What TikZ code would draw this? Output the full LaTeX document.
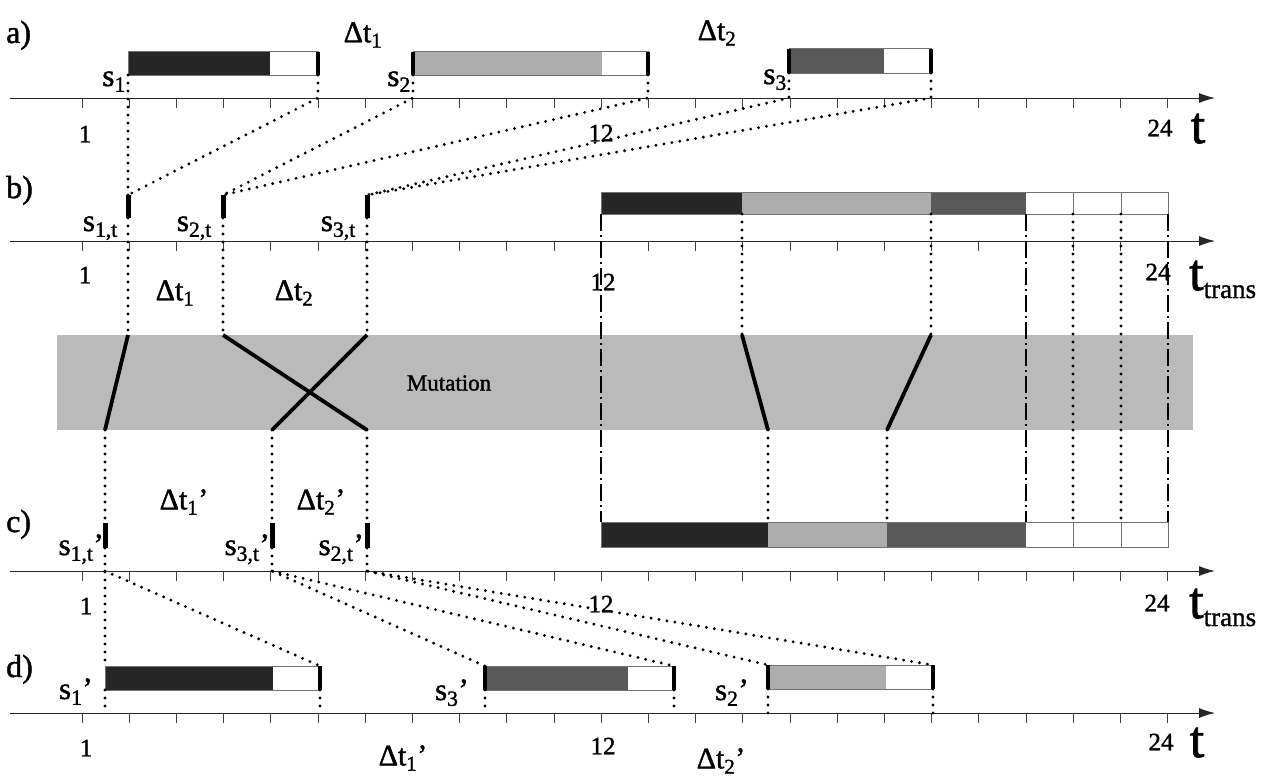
\documentclass[tikz,border=0pt]{standalone}
\usepackage{fontspec}
\setmainfont{Liberation Serif}[FakeBold=1.4]
\usetikzlibrary{arrows.meta,calc}

\colorlet{jobA}{black!85}
\colorlet{jobB}{black!32}
\colorlet{jobC}{black!65}
\colorlet{band}{black!27}

\begin{document}
\begin{tikzpicture}[x=1pt,y=-1pt,
    >={Latex[length=16pt,width=10pt]},
    axisline/.style={draw=black!85,line width=1pt,->},
    tickmark/.style={draw=black!75,line width=0.8pt},
    dots/.style={line width=3.2pt,line cap=round,dash pattern=on 0pt off 8pt},
    dashdots/.style={line width=2.6pt,dash pattern=on 17pt off 4pt on 2pt off 4pt},
    jobbox/.style={draw=black!55,line width=1pt},
    jobend/.style={line width=3.8pt},
    marker/.style={line width=5pt},
    swapline/.style={line width=3.8pt},
    panel/.style={font=\fontsize{32}{34}\selectfont,inner sep=0pt},
    slabel/.style={font=\fontsize{31}{33}\selectfont,inner sep=0pt},
    dlabel/.style={font=\fontsize{30}{32}\selectfont,inner sep=0pt},
    num/.style={font=\fontsize{25}{27}\selectfont,inner sep=0pt},
    tlabel/.style={font=\fontsize{52}{54}\selectfont,inner sep=0pt}
  ]
  \useasboundingbox (0,0) rectangle (1273,776);

  % mutation band
  \fill[band] (57,335) rectangle (1193,430);
  \node[font=\fontsize{23}{25}\selectfont,inner sep=0pt] (mut) at (449,383) {Mutation};

  % time axes with hour ticks
  \foreach \ax/\ay in {a/98,b/241,c/571,d/713}{
    \coordinate (\ax0) at (10,\ay);
    \coordinate (\ax1) at (1215,\ay);
    \draw[axisline] (\ax0) -- (\ax1);
    \foreach \k in {0,...,23}
      \draw[tickmark] (82+47.2*\k,\ay) -- (82+47.2*\k,\ay+10);
  }

  % a) original schedule
  \fill[jobA] (128,52) rectangle (270,75);
  \draw[jobbox] (128,52) rectangle (318,75);
  \fill[jobB] (413,52) rectangle (602,75);
  \draw[jobbox] (413,52) rectangle (648,75);
  \fill[jobC] (789,49) rectangle (884,73);
  \draw[jobbox] (789,49) rectangle (931,73);
  \draw[jobend] (318,52) -- (318,75) (413,52) -- (413,75) (648,52) -- (648,75)
    (789,49) -- (789,73) (931,49) -- (931,73);
  \coordinate (a1s) at (128,75);  \coordinate (a1e) at (318,75);
  \coordinate (a2s) at (413,75);  \coordinate (a2e) at (648,75);
  \coordinate (a3s) at (789,73);  \coordinate (a3e) at (931,73);

  \node[panel,anchor=base west] (pa) at (6,43) {a)};
  \node[slabel,anchor=base east] (la1) at (126,86) {s\textsubscript{1}};
  \node[slabel,anchor=base east] (la2) at (411,86) {s\textsubscript{2}};
  \node[slabel,anchor=base east] (la3) at (787,84) {s\textsubscript{3}};
  \node[dlabel] (da1) at (363,35) {Δt\textsubscript{1}};
  \node[dlabel] (da2) at (717,33) {Δt\textsubscript{2}};
  \node[num] (na1) at (85,134) {1};
  \node[num] (na12) at (601,133) {12};
  \node[num] (na24) at (1160,128) {24};
  \node[tlabel,anchor=base] (ta) at (1198,143) {t};

  % b) transformed start points
  \coordinate (b1t) at (128,195);  \coordinate (b1b) at (128,218);
  \coordinate (b2t) at (223,195);  \coordinate (b2b) at (223,218);
  \coordinate (b3t) at (367,195);  \coordinate (b3b) at (367,218);
  \draw[marker] (b1t) -- (b1b) (b2t) -- (b2b) (b3t) -- (b3b);

  \draw[dots] (a1s) -- (b1t);
  \draw[dots] (a1e) -- (a1e |- a0) -- (b1t);
  \draw[dots] (a2s) -- (a2s |- a0) -- (b2t);
  \draw[dots] (a2e) -- (a2e |- a0) -- (b2t);
  \draw[dots] (a3s) -- (a3s |- a0) -- (b3t);
  \draw[dots] (a3e) -- (a3e |- a0) -- (b3t);

  \fill[jobA] (601,192) rectangle (742,214);
  \fill[jobB] (742,192) rectangle (931,214);
  \fill[jobC] (931,192) rectangle (1026,214);
  \draw[jobbox] (601,192) rectangle (1168,214);
  \draw[jobbox] (1073,192) -- (1073,214) (1121,192) -- (1121,214);

  \node[panel,anchor=base west] (pb) at (6,198) {b)};
  \node[slabel,anchor=base east] (lb1) at (118,231) {s\textsubscript{1,t}};
  \node[slabel,anchor=base east] (lb2) at (212,231) {s\textsubscript{2,t}};
  \node[slabel,anchor=base east] (lb3) at (356,231) {s\textsubscript{3,t}};
  \node[dlabel] (db1) at (175,293) {Δt\textsubscript{1}};
  \node[dlabel] (db2) at (294,293) {Δt\textsubscript{2}};
  \node[num] (nb1) at (85,275) {1};
  \node[num] (nb12) at (603,282) {12};
  \node[num] (nb24) at (1158,272) {24};
  \node[tlabel,anchor=base west] (tb) at (1189,290)
    {t\raisebox{-8pt}{\fontsize{27}{29}\selectfont trans}};

  % mutation: swapped order and changed durations
  \coordinate (m1t) at (128,335);  \coordinate (m1b) at (105,430);
  \coordinate (m2t) at (223,335);  \coordinate (m2b) at (367,430);
  \coordinate (m3t) at (367,335);  \coordinate (m3b) at (272,430);
  \coordinate (c1t) at (105,523);  \coordinate (c1b) at (105,548);
  \coordinate (c2t) at (367,523);  \coordinate (c2b) at (367,548);
  \coordinate (c3t) at (272,523);  \coordinate (c3b) at (272,548);

  \draw[dots] (b1b) -- (m1t) (b2b) -- (m2t) (b3b) -- (m3t);
  \draw[swapline] (m1t) -- (m1b) (m2t) -- (m2b) (m3t) -- (m3b);
  \draw[dots] (m1b) -- (c1t) (m2b) -- (c2t) (m3b) -- (c3t);
  \draw[marker] (c1t) -- (c1b) (c2t) -- (c2b) (c3t) -- (c3b);

  \foreach \n/\x in {0/601,1/742,2/931,3/1026,4/1073,5/1121,6/1168}
    \coordinate (bb\n) at (\x,214);
  \foreach \n/\x in {0/601,1/768,2/887,3/1026,4/1073,5/1121,6/1168}
    \coordinate (ct\n) at (\x,522);
  \draw[dashdots] (bb0) -- (ct0) (bb3) -- (ct3) (bb6) -- (ct6);
  \draw[dots] (bb4) -- (ct4) (bb5) -- (ct5);
  \draw[dots] (bb1) -- (bb1 |- m1t) (ct1 |- m1b) -- (ct1);
  \draw[dots] (bb2) -- (bb2 |- m1t) (ct2 |- m1b) -- (ct2);
  \draw[swapline] (bb1 |- m1t) -- (ct1 |- m1b) (bb2 |- m1t) -- (ct2 |- m1b);

  % c) mutated transformed schedule
  \fill[jobA] (601,522) rectangle (768,547);
  \fill[jobB] (768,522) rectangle (887,547);
  \fill[jobC] (887,522) rectangle (1026,547);
  \draw[jobbox] (601,522) rectangle (1168,547);
  \draw[jobbox] (1073,522) -- (1073,547) (1121,522) -- (1121,547);

  \node[panel,anchor=base west] (pc) at (6,532) {c)};
  \node[slabel,anchor=base east] (lc1) at (104,555) {s\textsubscript{1,t}'};
  \node[slabel,anchor=base east] (lc3) at (270,555) {s\textsubscript{3,t}'};
  \node[slabel,anchor=base east] (lc2) at (364,555) {s\textsubscript{2,t}'};
  \node[dlabel] (dc1) at (184,502) {Δt\textsubscript{1}'};
  \node[dlabel] (dc2) at (321,502) {Δt\textsubscript{2}'};
  \node[num] (nc1) at (86,606) {1};
  \node[num] (nc12) at (601,604) {12};
  \node[num] (nc24) at (1157,603) {24};
  \node[tlabel,anchor=base west] (tc) at (1189,618)
    {t\raisebox{-8pt}{\fontsize{27}{29}\selectfont trans}};

  % d) decoded schedule
  \coordinate (d1s) at (105,666);  \coordinate (d1e) at (320,666);
  \coordinate (d3s) at (485,666);  \coordinate (d3e) at (674,666);
  \coordinate (d2s) at (768,665);  \coordinate (d2e) at (933,665);
  \fill[jobA] (105,666) rectangle (273,690);
  \draw[jobbox] (105,666) rectangle (320,690);
  \fill[jobC] (485,666) rectangle (628,690);
  \draw[jobbox] (485,666) rectangle (674,690);
  \fill[jobB] (768,665) rectangle (886,689);
  \draw[jobbox] (768,665) rectangle (933,689);
  \draw[jobend] (320,666) -- (320,690) (485,666) -- (485,690) (674,666) -- (674,690)
    (768,665) -- (768,689) (933,665) -- (933,689);

  \draw[dots] (c1b) -- (d1s);
  \draw[dots] (c1b |- c0) -- (d1e);
  \draw[dots] (c3b) -- (c3b |- c0) -- (d3s);
  \draw[dots] (c3b |- c0) -- (d3e);
  \draw[dots] (c2b) -- (c2b |- c0) -- (d2s);
  \draw[dots] (c2b |- c0) -- (d2e);
  \foreach \p in {d1s,d1e,d3s,d3e,d2s,d2e}
    \draw[dots] ($(\p)+(0,24)$) -- (\p |- d0);

  \node[panel,anchor=base west] (pd) at (6,677) {d)};
  \node[slabel,anchor=base east] (ld1) at (93,699) {s\textsubscript{1}’};
  \node[slabel,anchor=base east] (ld3) at (469,700) {s\textsubscript{3}’};
  \node[slabel,anchor=base east] (ld2) at (749,700) {s\textsubscript{2}’};
  \node[dlabel] (dd1) at (403,758) {Δt\textsubscript{1}'};
  \node[dlabel] (dd2) at (721,761) {Δt\textsubscript{2}'};
  \node[num] (nd1) at (86,748) {1};
  \node[num] (nd12) at (603,746) {12};
  \node[num] (nd24) at (1161,742) {24};
  \node[tlabel,anchor=base] (td) at (1197,757) {t};
\end{tikzpicture}
\end{document}
